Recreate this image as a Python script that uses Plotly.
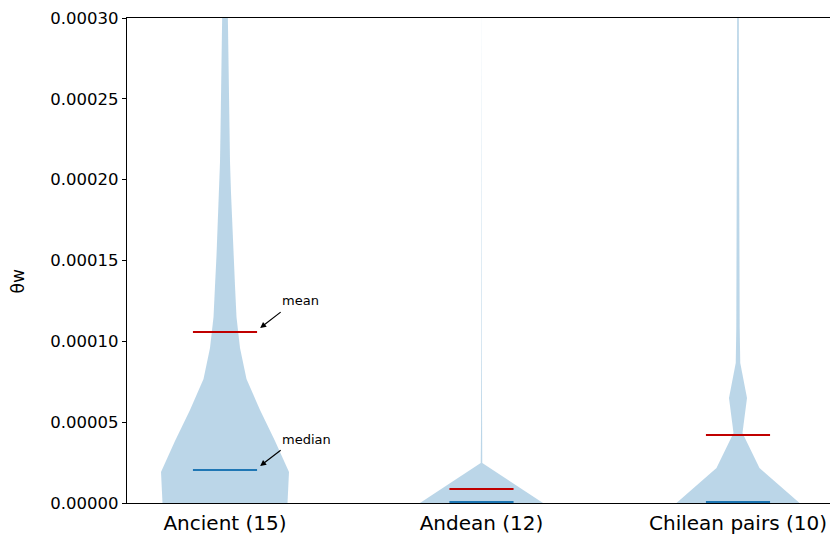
import plotly.graph_objects as go

# ---- data ----
categories = ["Ancient (15)", "Andean (12)", "Chilean pairs (10)"]
positions = [1, 2, 3]

# violin density profiles: y levels (θw) and half-widths (in x units, max 0.25)
ancient_levels = [-1.92e-5, 0.0, 1.92e-5, 3.84e-5, 5.75e-5, 7.67e-5, 9.59e-5, 1.151e-4,
                  1.342e-4, 1.534e-4, 1.726e-4, 1.918e-4, 2.109e-4, 2.301e-4, 2.493e-4,
                  2.685e-4, 2.876e-4, 3.068e-4]
ancient_halfwidth = [0.220, 0.2437, 0.2495, 0.195, 0.1365, 0.0838, 0.0585, 0.0448,
                     0.039, 0.0331, 0.0273, 0.0234, 0.0195, 0.0175, 0.0156,
                     0.0136, 0.0117, 0.0105]

andean_levels = [-2.47e-5, 0.0, 2.47e-5, 4.95e-5, 7.42e-5, 9.9e-5, 1.237e-4, 1.485e-4,
                 1.732e-4, 1.98e-4, 2.227e-4, 2.475e-4, 2.722e-4, 2.97e-4, 3.2e-4]
andean_halfwidth = [0.235, 0.240, 0.003, 0.0016, 0.0013, 0.0011, 0.0010, 0.0009,
                    0.0008, 0.0007, 0.0006, 0.0005, 0.0005, 0.0004, 0.0004]

chilean_levels = [-2.165e-5, 0.0, 2.165e-5, 4.33e-5, 6.495e-5, 8.66e-5, 1.0825e-4, 1.299e-4,
                  1.5155e-4, 1.732e-4, 1.9485e-4, 2.165e-4, 2.3815e-4, 2.598e-4,
                  2.8145e-4, 3.031e-4]
chilean_halfwidth = [0.225, 0.240, 0.0838, 0.0175, 0.0351, 0.0088, 0.0066, 0.0058,
                     0.0052, 0.0048, 0.0044, 0.0041, 0.0038, 0.0036, 0.0034, 0.0032]

means = [1.058e-4, 8.7e-6, 4.21e-5]
medians = [2.04e-5, 6e-7, 6e-7]

y_tick_values = [0.0, 0.00005, 0.00010, 0.00015, 0.00020, 0.00025, 0.00030]
y_tick_labels = ["0.00000", "0.00005", "0.00010", "0.00015", "0.00020", "0.00025", "0.00030"]
y_title = "θw"

profiles = [
    (ancient_levels, ancient_halfwidth),
    (andean_levels, andean_halfwidth),
    (chilean_levels, chilean_halfwidth),
]

FONT = "DejaVu Sans"
BODY = "rgba(31,119,180,0.3)"
MEAN_C = "#c00000"
MEDIAN_C = "#1f77b4"
LINE_HALF = 0.125

fig = go.Figure()

for pos, (lv, hw) in zip(positions, profiles):
    xs = [pos + h for h in hw] + [pos - h for h in reversed(hw)]
    ys = list(lv) + list(reversed(lv))
    fig.add_trace(go.Scatter(x=xs, y=ys, fill="toself", fillcolor=BODY,
                             mode="lines", line=dict(width=0, color=BODY),
                             hoverinfo="skip", showlegend=False))

for pos, m, md in zip(positions, means, medians):
    fig.add_trace(go.Scatter(x=[pos - LINE_HALF, pos + LINE_HALF], y=[md, md],
                             mode="lines", line=dict(color=MEDIAN_C, width=2),
                             showlegend=False))
    fig.add_trace(go.Scatter(x=[pos - LINE_HALF, pos + LINE_HALF], y=[m, m],
                             mode="lines", line=dict(color=MEAN_C, width=2),
                             showlegend=False))

# annotations on the first violin
for label, val in [("mean", means[0]), ("median", medians[0])]:
    fig.add_annotation(x=positions[0] + 0.137, y=val, yshift=4, xref="x", yref="y",
                       text="", showarrow=True, ax=22, ay=-17,
                       arrowhead=2, arrowsize=1, arrowwidth=1.2, arrowcolor="black",
                       standoff=0)
    fig.add_annotation(x=positions[0] + 0.214, y=val, yshift=31, xref="x", yref="y",
                       text=label, showarrow=False, xanchor="left", yanchor="middle",
                       font=dict(family=FONT, size=13, color="black"))

# y-axis title
fig.add_annotation(x=-0.155, y=0.457, xref="paper", yref="paper", text=y_title,
                   textangle=-90, showarrow=False, xanchor="center", yanchor="middle",
                   font=dict(family=FONT, size=17, color="black"))

fig.update_layout(
    width=830, height=535,
    margin=dict(l=127, r=0, t=18, b=32),
    plot_bgcolor="white", paper_bgcolor="white",
    font=dict(family=FONT, color="black"),
    showlegend=False,
)
fig.update_xaxes(range=[0.6179, 3.3587], tickvals=positions, ticktext=categories,
                 showline=True, linecolor="black", linewidth=1.2, mirror=True,
                 ticks="", showgrid=False, zeroline=False, ticklabelstandoff=2,
                 tickfont=dict(family=FONT, size=20, color="black"))
fig.update_yaxes(range=[0, 0.0003], tickvals=y_tick_values, ticktext=y_tick_labels,
                 showline=True, linecolor="black", linewidth=1.2, mirror=False,
                 ticks="outside", ticklen=4, tickwidth=1.2, tickcolor="black",
                 showgrid=False, zeroline=False,
                 tickfont=dict(family=FONT, size=16.5, color="black"))

fig.write_html("out.html", config={"displayModeBar": False},
               post_script="document.body.style.margin='0';document.body.style.overflow='hidden';")
